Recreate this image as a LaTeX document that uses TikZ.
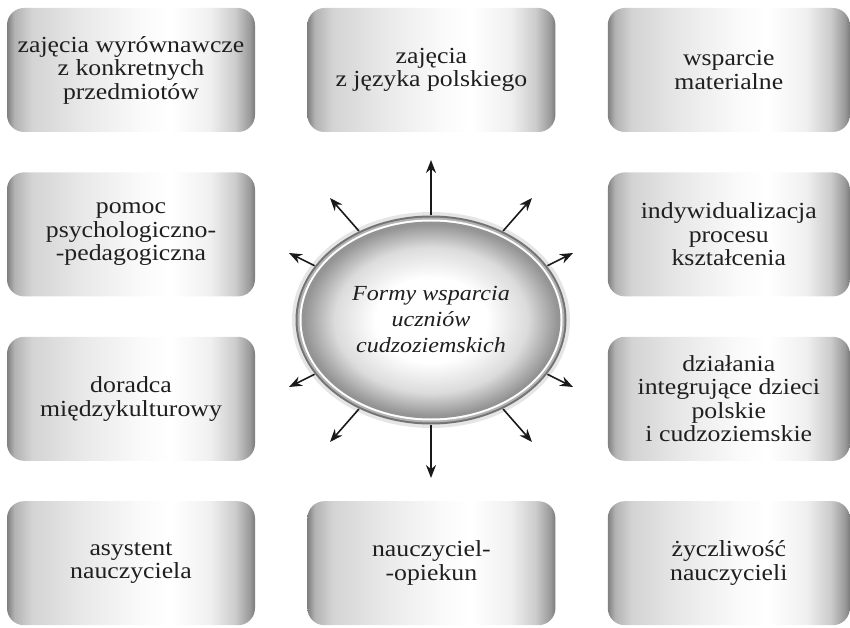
\documentclass[tikz,border=0pt]{standalone}
\usepackage{fontspec}
\setmainfont[FakeStretch=1.12]{Liberation Serif}
\usetikzlibrary{arrows.meta,positioning,shapes.geometric}
\pgfdeclarehorizontalshading{boxshade}{100bp}{color(0bp)=(black!50);color(25bp)=(black!50);color(26.5bp)=(black!30);color(30bp)=(black!17);color(40bp)=(black!9);color(52bp)=(black!2);color(58bp)=(white);color(66bp)=(black!6);color(71bp)=(black!20);color(74bp)=(black!40);color(75bp)=(black!52);color(100bp)=(black!52)}
\pgfdeclareradialshading{hubshade}{\pgfpoint{0bp}{0bp}}{color(0bp)=(white);color(11bp)=(white);color(19bp)=(black!14);color(25bp)=(black!42);color(50bp)=(black!42)}

\begin{document}
\begin{tikzpicture}[x=1pt,y=1pt,font=\fontsize{23}{23.5}\selectfont,
  b/.style={rounded corners=17pt,shading=boxshade,minimum width=248pt,minimum height=124pt,align=center,text=black!88,inner sep=2pt},
  hub/.style={ellipse,minimum width=254pt,minimum height=192pt,inner sep=0pt,outer sep=9pt,shading=hubshade,align=center,text=black!88,font=\fontsize{21.5}{26}\selectfont\itshape},
  a/.style={-{Stealth[length=13pt,width=10pt]},line width=1.6pt,black!90}]
  \useasboundingbox (0,0) rectangle (850,627);
  \node[b] (b11) at (131,557) {zajęcia wyrównawcze\\z konkretnych\\przedmiotów};
  \node[b,right=52pt of b11] (b12) {zajęcia\\z języka polskiego};
  \node[b,right=52pt of b12,minimum width=242pt] (b13) {wsparcie\\materialne};
  \node[b,below=40pt of b11] (b21) {pomoc\\psychologiczno-\\-pedagogiczna};
  \node[b,below=40pt of b13,minimum width=242pt] (b23) {indywidualizacja\\procesu\\kształcenia};
  \node[b,below=40pt of b21] (b31) {doradca\\międzykulturowy};
  \node[b,below=40pt of b23,minimum width=242pt] (b33) {działania\\integrujące dzieci\\polskie\\i cudzoziemskie};
  \node[b,below=40pt of b31] (b41) {asystent\\nauczyciela};
  \node[b,right=52pt of b41] (b42) {nauczyciel-\\-opiekun};
  \node[b,right=52pt of b42,minimum width=242pt] (b43) {życzliwość\\nauczycieli};
  \coordinate (o) at (431,307);
  \fill[black!10] (o) ellipse (139 and 108);
  \fill[black!55] (o) ellipse (135.5 and 104.5);
  \fill[black!30] (o) ellipse (133.5 and 102.5);
  \fill[white] (o) ellipse (131.5 and 100.5);
  \fill[black!42] (o) ellipse (129.5 and 98.5);
  \node[hub] (c) at (o) {Formy wsparcia\\uczniów\\cudzoziemskich};
  \foreach \i/\ang/\dx/\dy in {1/90/0/160,2/51/101/122,3/25/142/67,4/-25/142/-67,5/-51/101/-122,6/-90/0/-158,7/-129/-101/-122,8/-155/-142/-67,9/155/-142/67,10/129/-101/122}{
    \coordinate (t\i) at ([shift={(\dx,\dy)}]o);
    \draw[a] (c.\ang) -- (t\i);
  }
\end{tikzpicture}
\end{document}
